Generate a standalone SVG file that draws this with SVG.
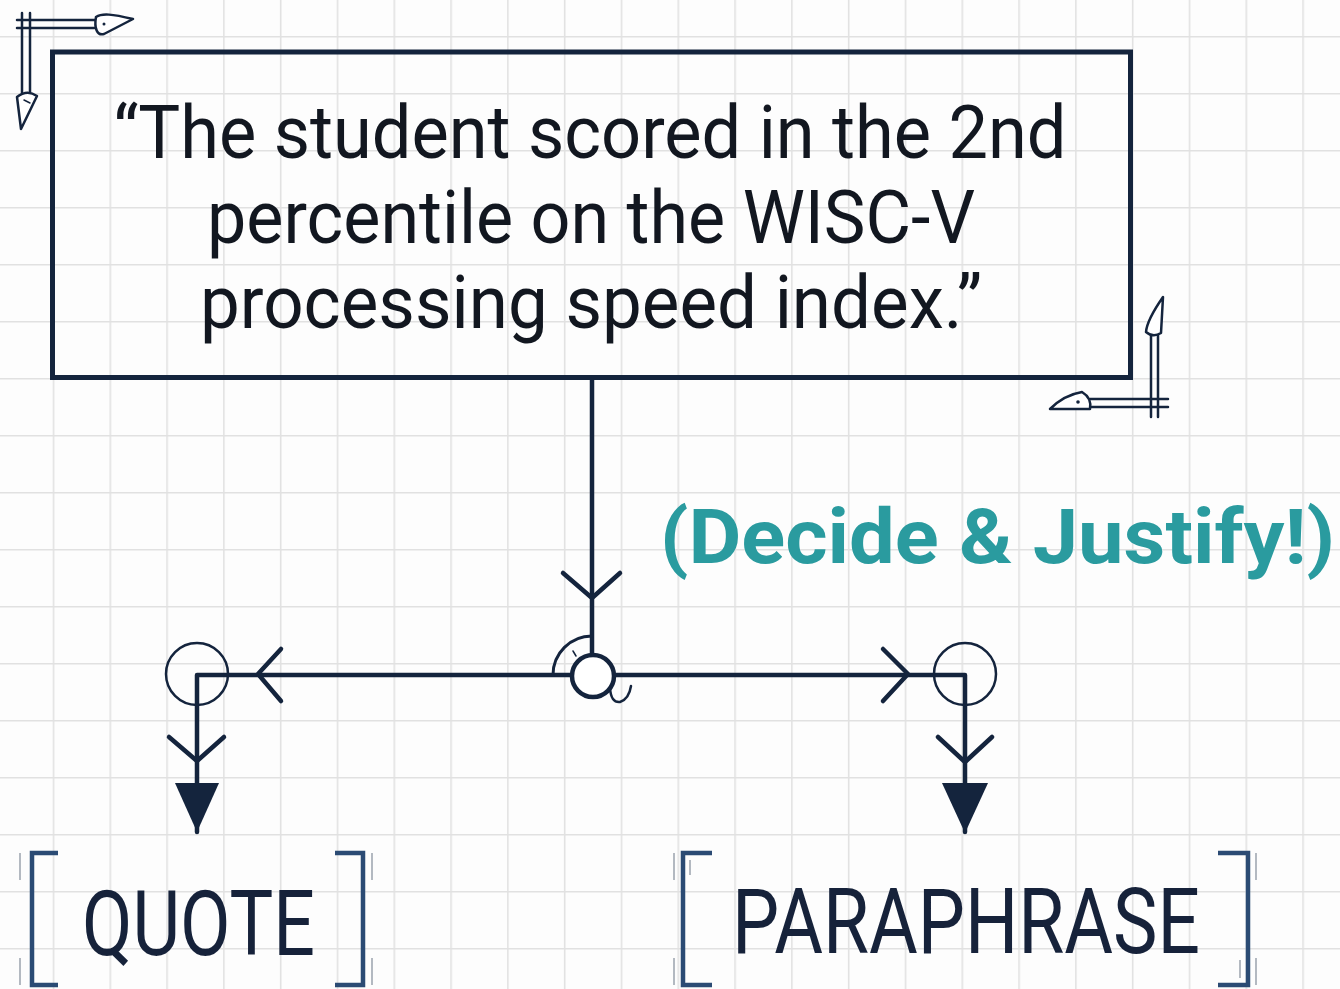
<svg xmlns="http://www.w3.org/2000/svg" width="1340" height="989" viewBox="0 0 1340 989">
  <style>
    .ink{stroke:#14243d;fill:none;stroke-linecap:round;stroke-linejoin:round}
    .main{font-family:Roboto,"Liberation Sans",sans-serif;fill:#121720;font-size:74px;text-anchor:middle}
    .lbl{font-family:Roboto,"Liberation Sans",sans-serif;fill:#16223a;font-size:90px}
    .br{stroke:#2b4b74;stroke-width:4.5;fill:none}
    .tick{stroke:#9aa3ad;stroke-width:1.5;fill:none}
    .nib{fill:#ffffff;stroke:#14243d;stroke-width:2.5;stroke-linejoin:round}
  </style>
  <defs>
    <pattern id="grid" patternUnits="userSpaceOnUse" x="52.7" y="36" width="56.8" height="57">
      <path d="M0.75,0 V57 M0,0.75 H56.8" stroke="#e1e1e1" stroke-width="1.6" fill="none"/>
    </pattern>
  </defs>
  <rect width="1340" height="989" fill="#fdfdfd"/>
  <rect width="1340" height="989" fill="url(#grid)"/>

  <g id="decor-top-left">
    <path class="ink" stroke-width="2.5" d="M17,20 H97 M17,28 H97 M22,13 V95 M30,13 V95"/>
    <path class="nib" d="M96,17 C102,13 112,14 133,19 L104,34 C97,36 94,28 96,17 Z"/>
    <circle cx="104" cy="24" r="1.5" fill="#14243d"/>
    <path class="nib" d="M17,97 Q27,89 37,96 L21,129 Z"/>
    <path class="ink" stroke-width="1.5" d="M24,100 L30,103"/>
  </g>

  <g id="decor-bottom-right">
    <path class="ink" stroke-width="2.5" d="M1151,333 V417 M1158,333 V417 M1090,399 H1168 M1090,407 H1168"/>
    <path class="nib" d="M1146,332 Q1147,320 1163,297 L1161,333 Q1153,338 1146,332 Z"/>
    <path class="nib" d="M1050,409 Q1064,395 1082,392 Q1092,398 1090,409 Z"/>
    <circle cx="1078" cy="402" r="1.8" fill="#14243d"/>
  </g>

  <g id="statement">
    <rect x="52.5" y="52" width="1078" height="325.5" fill="none" stroke="#14243d" stroke-width="5"/>
    <text class="main" x="590" y="158" textLength="953" lengthAdjust="spacingAndGlyphs">“The student scored in the 2nd</text>
    <text class="main" x="591" y="243" textLength="768" lengthAdjust="spacingAndGlyphs">percentile on the WISC-V</text>
    <text class="main" x="591" y="328" textLength="782" lengthAdjust="spacingAndGlyphs">processing speed index.”</text>
  </g>

  <g id="decide-label">
    <text x="660" y="563" font-family="Roboto,'Liberation Sans',sans-serif" font-weight="bold" font-size="76" fill="#2a9b9f" textLength="675" lengthAdjust="spacingAndGlyphs">(Decide &amp; Justify!)</text>
  </g>

  <g id="connectors">
    <path class="ink" stroke-width="4.5" d="M592,380 V654"/>
    <path class="ink" stroke-width="4.5" d="M563,573 L592,598 L620,573"/>
    <path class="ink" stroke-width="4.5" d="M571,675 H197 V832"/>
    <path class="ink" stroke-width="4.5" d="M613,675 H965 V832"/>
    <path class="ink" stroke-width="4.5" d="M281,649 L258,674 L281,701"/>
    <path class="ink" stroke-width="4.5" d="M883,649 L908,674 L883,701"/>
    <path class="ink" stroke-width="4.5" d="M169,737 L197,761 L224,737"/>
    <path class="ink" stroke-width="4.5" d="M938,737 L965,762 L992,737"/>
    <path d="M175,783 H219 L197,832 Z" fill="#14243d"/>
    <path d="M942,783 H988 L965,833 Z" fill="#14243d"/>
    <circle cx="197" cy="674" r="31" fill="none" stroke="#14243d" stroke-width="2.5"/>
    <circle cx="965" cy="674" r="31" fill="none" stroke="#14243d" stroke-width="2.5"/>
    <path class="ink" stroke-width="3" d="M553,675 A39,39 0 0 1 592,636"/>
    <path class="ink" stroke-width="1.5" d="M573,651 L576,656"/>
    <circle cx="593" cy="676" r="21" fill="#ffffff" stroke="#14243d" stroke-width="4.5"/>
    <path class="ink" stroke-width="2.5" d="M610,688 Q611,703 620,702 Q629,699 631,686"/>
  </g>

  <g id="quote">
    <path class="br" d="M58,853 H32 V985 H58"/>
    <path class="br" d="M335,853 H363 V985 H335"/>
    <path class="tick" d="M20,853 V880 M20,958 V985 M372,853 V880 M372,958 V985"/>
    <text class="lbl" x="82" y="955" textLength="233" lengthAdjust="spacingAndGlyphs">QUOTE</text>
  </g>

  <g id="paraphrase">
    <path class="br" d="M712,853 H683 V985 H712"/>
    <path class="br" d="M1218,853 H1248 V985 H1218"/>
    <path class="tick" d="M674,853 V880 M674,958 V985 M690,860 V875 M1256,853 V880 M1256,958 V985 M1240,960 V978"/>
    <text class="lbl" x="732" y="953" textLength="468" lengthAdjust="spacingAndGlyphs">PARAPHRASE</text>
  </g>
</svg>
